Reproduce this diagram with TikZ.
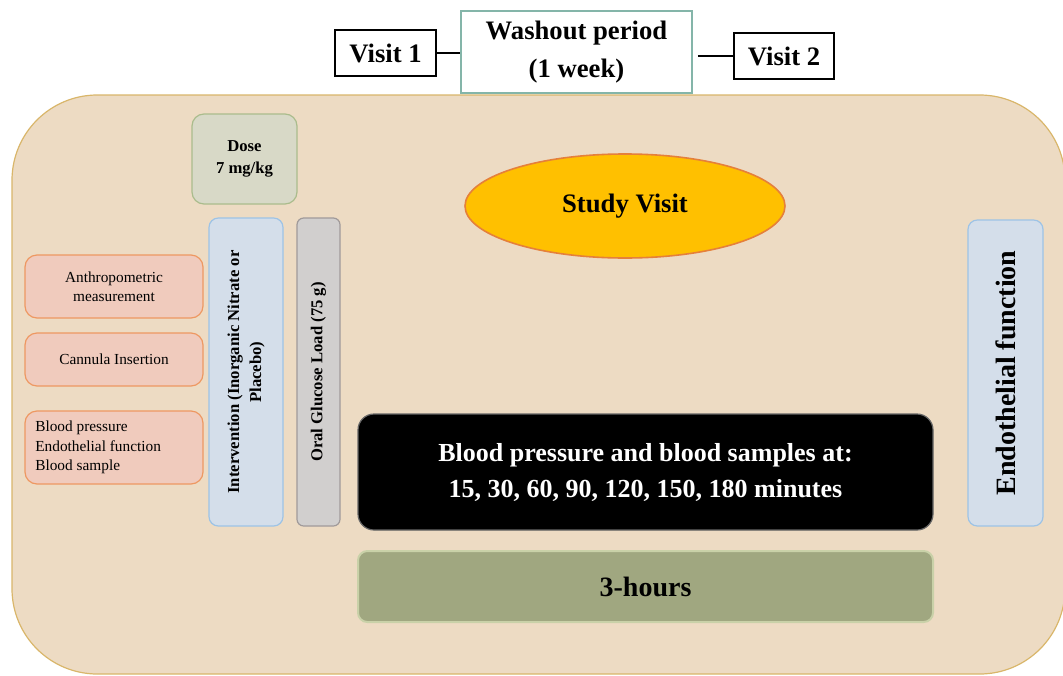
\documentclass[tikz,border=0pt]{standalone}
\usepackage{fontspec}
\setmainfont{Liberation Serif}
\usepackage{tikz}
\usetikzlibrary{shapes.geometric}

\definecolor{panel}{HTML}{EDDBC3}
\definecolor{panelline}{HTML}{D9B66A}
\definecolor{teal}{HTML}{84B5A9}
\definecolor{dosefill}{HTML}{D8D9C7}
\definecolor{doseline}{HTML}{AABC8C}
\definecolor{bluefill}{HTML}{D4DEEA}
\definecolor{blueline}{HTML}{9DC3E6}
\definecolor{grayfill}{HTML}{D1CFCE}
\definecolor{grayline}{HTML}{A09A9A}
\definecolor{salmon}{HTML}{F0CBBD}
\definecolor{salmonline}{HTML}{EE9862}
\definecolor{gold}{HTML}{FFC000}
\definecolor{orangeline}{HTML}{E5803A}
\definecolor{olive}{HTML}{A0A780}
\definecolor{oliveline}{HTML}{C9D1A8}

\begin{document}
\begin{tikzpicture}[x=0.75pt,y=-0.75pt,
  visitbox/.style={draw=black,line width=1.2pt,fill=white,inner sep=0pt,
    font=\fontsize{20}{24}\selectfont\bfseries},
  step box/.style={draw=salmonline,line width=0.9pt,fill=salmon,rounded corners=9pt,
    inner sep=0pt,minimum width=133.5pt,font=\fontsize{11.5}{14.5}\selectfont,align=center},
  bar/.style={rotate=90,line width=0.9pt,rounded corners=7pt,inner sep=0pt,align=center}]
\useasboundingbox (0,0) rectangle (1063,675);
\begin{scope}
\clip (0,0) rectangle (1063,675);
\draw[fill=panel,draw=panelline,line width=0.9pt,rounded corners=64pt] (12,95) rectangle (1065,674);
\end{scope}
% top row
\node[visitbox,minimum width=75.75pt,minimum height=34.5pt] (visit1) at (385.5,53) {Visit 1};
\node[draw=teal,line width=1.2pt,fill=white,inner sep=0pt,minimum width=173pt,minimum height=61.5pt,
  align=center,font=\fontsize{20}{28}\selectfont\bfseries] (washout) at (576.5,52) {Washout period\\(1 week)};
\node[visitbox,minimum width=75pt,minimum height=34.5pt] (visit2) at (784,56) {Visit 2};
\draw[line width=1.2pt] (visit1.east) -- (visit1.east -| washout.west);
\draw[line width=1.2pt,shorten <=4pt] (washout.east |- visit2.west) -- (visit2.west);
% left column
\node[draw=doseline,line width=0.9pt,fill=dosefill,rounded corners=9pt,inner sep=0pt,
  minimum width=78.75pt,minimum height=67.5pt,align=center,
  font=\fontsize{12.5}{17}\selectfont\bfseries] (dose) at (244.5,159) {Dose\\7 mg/kg};
\node[step box,minimum height=47.25pt] (anthro) at (114,286.5) {Anthropometric\\measurement};
\node[step box,minimum height=39.75pt] (cannula) at (114,359.5) {Cannula Insertion};
\node[step box,minimum height=54.75pt,align=flush left,text width=118pt] (baseline) at (114,447.5)
  {Blood pressure\\Endothelial function\\Blood sample};
\node[bar,draw=blueline,fill=bluefill,minimum width=231pt,minimum height=55.5pt,
  font=\fontsize{12.5}{16.5}\selectfont\bfseries] (interv) at (246,372)
  {Intervention (Inorganic Nitrate or\\Placebo)};
\node[bar,draw=grayline,fill=grayfill,rounded corners=5pt,minimum width=231pt,minimum height=32.25pt,
  font=\fontsize{12.5}{15}\selectfont\bfseries] (ogl) at (318.5,372) {Oral Glucose Load (75 g)};
% centre and right
\node[ellipse,draw=orangeline,line width=1.2pt,fill=gold,inner sep=0pt,minimum width=240pt,
  minimum height=78pt,font=\fontsize{20}{24}\selectfont\bfseries] (study) at (625,206) {Study Visit};
\node[draw=black!60,line width=0.9pt,fill=black,text=white,rounded corners=12pt,inner sep=0pt,
  minimum width=431.25pt,minimum height=87pt,align=center,
  font=\fontsize{19.5}{27}\selectfont\bfseries] (samples) at (645.5,472)
  {Blood pressure and blood samples at:\\15, 30, 60, 90, 120, 150, 180 minutes};
\node[draw=oliveline,line width=1.5pt,fill=olive,rounded corners=7pt,inner sep=0pt,
  minimum width=431.25pt,minimum height=53.25pt,font=\fontsize{21}{25}\selectfont\bfseries]
  (hours) at (645.5,586.5) {3-hours};
\node[bar,draw=blueline,fill=bluefill,minimum width=229.5pt,minimum height=56.25pt,
  font=\fontsize{21}{25}\selectfont\bfseries] (endo) at (1005.5,373) {Endothelial function};
\end{tikzpicture}
\end{document}
